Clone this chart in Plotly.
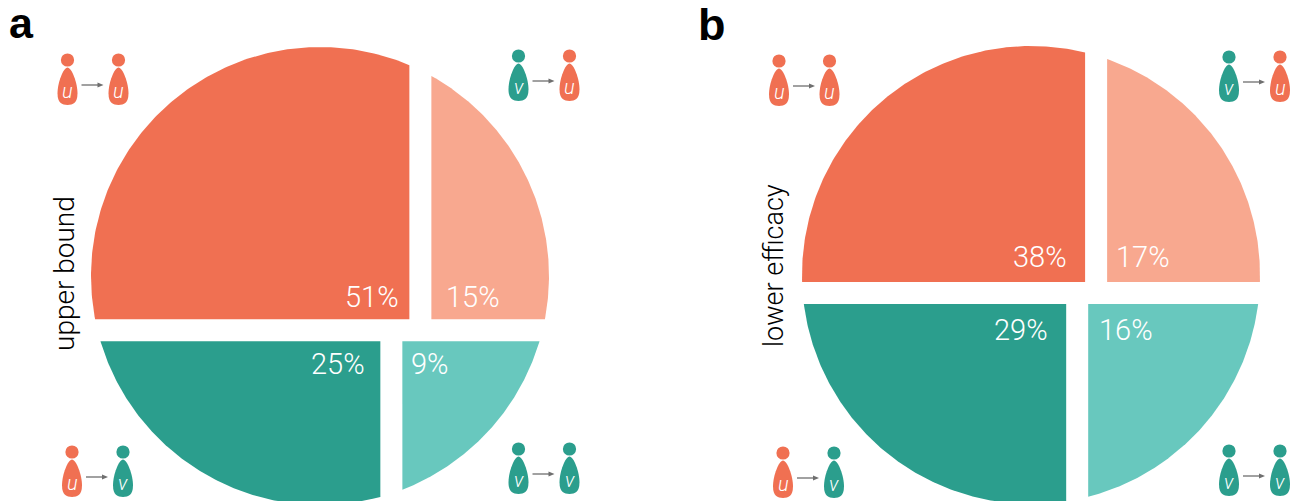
import numpy as np
import plotly.graph_objects as go

# Shares of each transmission type, in percent
panel_labels = ["a", "b"]
panel_titles = ["upper bound", "lower efficacy"]
uu_values = [51, 38]
vu_values = [15, 17]
uv_values = [25, 29]
vv_values = [9, 16]

ORANGE, ORANGE_LIGHT = "#F07052", "#F8A88F"
TEAL, TEAL_LIGHT = "#2B9E8D", "#68C8BE"
FONT = "Liberation Sans"
W, H = 1291, 501
R = 229
GAP = 11
centres = [(320, 276), (1031, 275)]
# small layout nudges of the cuts (horizontal, top vertical, bottom vertical), px
nudges = [(-4, -6, -8), (0, -6, -5)]


def split_positions(tl, tr, bl, br):
    """Find chord positions (unit circle) so region areas equal the shares."""
    n = 4001
    xs = np.linspace(-1, 1, n)
    dx = xs[1] - xs[0]
    half = np.sqrt(np.clip(1 - xs ** 2, 0, None))
    total = tl + tr + bl + br

    def area_above(h):
        return np.clip(np.minimum(half, h) + half, 0, None).sum() * dx

    full = area_above(1.0)
    lo, hi = -1.0, 1.0
    for _ in range(50):
        m = (lo + hi) / 2
        if area_above(m) / full < (tl + tr) / total:
            lo = m
        else:
            hi = m
    h = (lo + hi) / 2
    top = np.clip(np.minimum(half, h) + half, 0, None)
    bottom = 2 * half - top
    top_split = xs[np.searchsorted(np.cumsum(top) * dx / full, tl / total)]
    bot_split = xs[np.searchsorted(np.cumsum(bottom) * dx / full, bl / total)]
    return h, top_split, bot_split


def wedge(cx, cy, corner_x, corner_y, sx, sy):
    """Polygon: inner corner, then arc between its two edge ends."""
    dy = corner_y - cy
    ddx = corner_x - cx
    p1 = (cx + sx * np.sqrt(R ** 2 - dy ** 2), corner_y)
    p2 = (corner_x, cy + sy * np.sqrt(R ** 2 - ddx ** 2))
    a1 = np.arctan2(p1[1] - cy, p1[0] - cx)
    a2 = np.arctan2(p2[1] - cy, p2[0] - cx)
    d = (a2 - a1 + np.pi) % (2 * np.pi) - np.pi
    t = np.linspace(a1, a1 + d, 160)
    x = np.r_[corner_x, cx + R * np.cos(t), corner_x]
    y = np.r_[corner_y, cy + R * np.sin(t), corner_y]
    return x, y


fig = go.Figure()
shapes, notes = [], []


def text(x, y, s, size, color="white", angle=0, weight=None, family=FONT):
    notes.append(dict(x=x, y=y, xref="x", yref="y", text=s, showarrow=False, textangle=angle,
                      xanchor="center", yanchor="middle",
                      font=dict(family=family, size=size, color=color, weight=weight)))


def person(cx, head_y, color, letter):
    shapes.append(dict(type="circle", xref="x", yref="y", x0=cx - 6.6, x1=cx + 6.6,
                       y0=head_y - 6.6, y1=head_y + 6.6, fillcolor=color, line_width=0))
    t = head_y + 7.6
    b = head_y + 45
    path = (f"M {cx},{t} C {cx + 4},{t} {cx + 10},{t + 15} {cx + 10},{t + 26} "
            f"C {cx + 10},{b - 2} {cx + 5.5},{b} {cx},{b} "
            f"C {cx - 5.5},{b} {cx - 10},{b - 2} {cx - 10},{t + 26} "
            f"C {cx - 10},{t + 15} {cx - 4},{t} {cx},{t} Z")
    shapes.append(dict(type="path", xref="x", yref="y", path=path, fillcolor=color, line_width=0))
    text(cx, head_y + 31, f"<i>{letter}</i>", 20, family="Roboto", weight=300)


def icon(x1, x2, head_y, c1, l1, c2, l2):
    person(x1, head_y, c1, l1)
    person(x2, head_y, c2, l2)
    ay = head_y + 25
    ax0, ax1 = x1 + 14, x1 + 36
    shapes.append(dict(type="line", xref="x", yref="y", x0=ax0, x1=ax1 - 4, y0=ay, y1=ay,
                       line=dict(color="#6F6F6F", width=1.3)))
    shapes.append(dict(type="path", xref="x", yref="y", line_width=0, fillcolor="#6F6F6F",
                       path=f"M {ax1 - 6},{ay - 2.4} L {ax1},{ay} L {ax1 - 6},{ay + 2.4} Z"))


label_pos = [
    [(372, 297), (473, 297), (338, 364), (430, 364)],
    [(1040, 257), (1143, 257), (1021, 330), (1126, 330)],
]
title_pos = [(64, 274), (774, 266)]
title_size = [28, 27]
letter_pos = [(21, 23), (712, 24)]
letter_size = [43, 45]

for i in range(2):
    cx, cy = centres[i]
    vals = [uu_values[i], vu_values[i], uv_values[i], vv_values[i]]
    h, ts, bs = split_positions(*vals)
    hy = cy + h * R + nudges[i][0]
    tx, bx = cx + ts * R + nudges[i][1], cx + bs * R + nudges[i][2]
    quads = [
        (tx - GAP, hy - GAP, -1, -1, ORANGE),
        (tx + GAP, hy - GAP, 1, -1, ORANGE_LIGHT),
        (bx - GAP, hy + GAP, -1, 1, TEAL),
        (bx + GAP, hy + GAP, 1, 1, TEAL_LIGHT),
    ]
    for (qx, qy, sx, sy, col), v, pos in zip(quads, vals, label_pos[i]):
        x, y = wedge(cx, cy, qx, qy, sx, sy)
        fig.add_trace(go.Scatter(x=x, y=y, mode="lines", fill="toself", fillcolor=col,
                                 line=dict(width=0, color=col), hoverinfo="skip", showlegend=False))
        text(pos[0], pos[1], f"{v}%", 29, family="Roboto", weight=300)
    text(title_pos[i][0], title_pos[i][1], panel_titles[i], title_size[i], "black", angle=-90,
         family="Roboto", weight=300)
    text(letter_pos[i][0], letter_pos[i][1], panel_labels[i], letter_size[i], "black", weight="bold")

icon(67.5, 118.5, 60, ORANGE, "u", ORANGE, "u")
icon(518.5, 569.5, 56, TEAL, "v", ORANGE, "u")
icon(72, 123, 452, ORANGE, "u", TEAL, "v")
icon(518.5, 569.5, 449, TEAL, "v", TEAL, "v")
icon(779, 829.5, 61, ORANGE, "u", ORANGE, "u")
icon(1229, 1280, 57, TEAL, "v", ORANGE, "u")
icon(783, 834, 453, ORANGE, "u", TEAL, "v")
icon(1229, 1280, 451, TEAL, "v", TEAL, "v")

fig.update_layout(
    width=W, height=H, margin=dict(l=0, r=0, t=0, b=0), autosize=False,
    paper_bgcolor="white", plot_bgcolor="white", shapes=shapes, annotations=notes,
    xaxis=dict(range=[0, W], visible=False, fixedrange=True),
    yaxis=dict(range=[H, 0], visible=False, fixedrange=True),
)
fig.write_html("out.html", config={"displayModeBar": False}, default_width=f"{W}px", default_height=f"{H}px",
               post_script="document.body.style.margin='0';")
